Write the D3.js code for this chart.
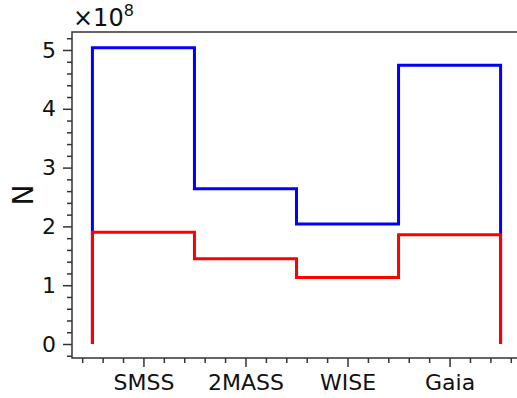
<!DOCTYPE html>
<html>
<head>
<meta charset="utf-8">
<script src="https://cdn.jsdelivr.net/npm/d3@7"></script>
<style>
  html, body { margin: 0; padding: 0; background: #fff; }
  svg { display: block; font-family: "DejaVu Sans", sans-serif; }
</style>
</head>
<body>
<svg id="chart" width="517" height="398"></svg>
<script>
// catalogue counts per survey
const surveys = ['SMSS', '2MASS', 'WISE', 'Gaia'];
const totalCounts = [5.04e8, 2.64e8, 2.04e8, 4.74e8];
const matchedCounts = [1.90e8, 1.45e8, 1.13e8, 1.86e8];
const yTicks = [0, 1, 2, 3, 4, 5];
const exponent = 8;

const svg = d3.select('#chart');
const plotLeft = 72, plotRight = 521, plotTop = 32, plotBottom = 358;

const x = d3.scaleLinear().domain([0.3, 4.7]).range([plotLeft, plotRight]);
const y = d3.scaleLinear().domain([-0.238, 5.306]).range([plotBottom, plotTop]);
const scale = Math.pow(10, exponent);

// minor ticks every 0.2
const xMinor = d3.range(0.4, 4.65, 0.2).filter(v => Math.abs(v - Math.round(v)) > 1e-6);
const yMinor = d3.range(-0.2, 5.25, 0.2).filter(v => Math.abs(v - Math.round(v)) > 1e-6);

const axisColor = '#333';

// step outline built from the counts
function stepPoints(counts) {
  const pts = [[0.5, 0]];
  counts.forEach((c, i) => {
    pts.push([i + 0.5, c / scale]);
    pts.push([i + 1.5, c / scale]);
  });
  pts.push([counts.length + 0.5, 0]);
  return pts;
}
const line = d3.line().x(d => x(d[0])).y(d => y(d[1]));

svg.append('path')
  .attr('d', line(stepPoints(totalCounts)))
  .attr('fill', 'none')
  .attr('stroke', '#0000ff')
  .attr('stroke-width', 3)
  .attr('stroke-linejoin', 'miter');

svg.append('path')
  .attr('d', line(stepPoints(matchedCounts)))
  .attr('fill', 'none')
  .attr('stroke', '#ff0000')
  .attr('stroke-width', 3)
  .attr('stroke-linejoin', 'miter');

// axes
const axisY = d3.axisLeft(y).tickValues(yTicks).tickSize(9).tickPadding(7).tickFormat(d3.format('d'));
const gy = svg.append('g').attr('transform', `translate(${plotLeft},0)`).call(axisY);
gy.append('g').call(d3.axisLeft(y).tickValues(yMinor).tickSize(5).tickFormat(''));

const axisX = d3.axisBottom(x).tickValues([1, 2, 3, 4]).tickSize(9).tickPadding(7)
  .tickFormat((d, i) => surveys[i]);
const gx = svg.append('g').attr('transform', `translate(0,${plotBottom})`).call(axisX);
gx.append('g').call(d3.axisBottom(x).tickValues(xMinor).tickSize(5).tickFormat(''));

svg.selectAll('.domain').remove();
svg.selectAll('.tick line').attr('stroke', axisColor).attr('stroke-width', 1.5);
svg.selectAll('.tick text').attr('font-size', 22).attr('fill', '#111')
  .attr('font-family', '"DejaVu Sans", sans-serif');

// spines
svg.append('path')
  .attr('d', `M${plotRight},${plotTop}H${plotLeft}V${plotBottom}H${plotRight}`)
  .attr('fill', 'none')
  .attr('stroke', axisColor)
  .attr('stroke-width', 1.5);

// offset text
const off = svg.append('text')
  .attr('x', 73).attr('y', 26)
  .attr('font-size', 24).attr('fill', '#111');
off.append('tspan').text('\u00d710');
off.append('tspan').attr('font-size', 16).attr('dy', -10).text(exponent);

// y label
svg.append('text')
  .attr('transform', `translate(33,${(plotTop + plotBottom) / 2}) rotate(-90)`)
  .attr('text-anchor', 'middle')
  .attr('font-size', 28).attr('fill', '#111')
  .text('N');
</script>
</body>
</html>
